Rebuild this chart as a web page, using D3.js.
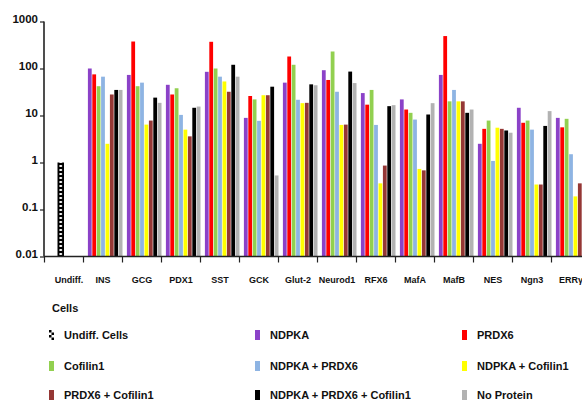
<!DOCTYPE html>
<html><head><meta charset="utf-8">
<script src="https://cdn.jsdelivr.net/npm/d3@7"></script>
<style>
body{margin:0;background:#fff}
svg{display:block}
text{font-family:"Liberation Sans",Arial,sans-serif;font-weight:bold;fill:#111}
</style>
</head><body><svg id="c" width="582" height="401"></svg>
<script>
// ---------- data ----------
const categories = ["Undiff.","INS","GCG","PDX1","SST","GCK","Glut-2","Neurod1","RFX6","MafA","MafB","NES","Ngn3","ERRγ"];
const undiffSeriesName = "Undiff. Cells";
const undiffCellsValue = [1];
const seriesNames = ["NDPKA","PRDX6","Cofilin1","NDPKA + PRDX6","NDPKA + Cofilin1","PRDX6 + Cofilin1","NDPKA + PRDX6 + Cofilin1","No Protein"];
const seriesColors = ["#8b42c8","#ff0000","#92d050","#8eb4e3","#ffff00","#953735","#000000","#b2b2b2"];
// values per gene: INS GCG PDX1 SST GCK Glut-2 Neurod1 RFX6 MafA MafB NES Ngn3 ERRγ
const ndpka          = [100, 73, 45, 85, 8.9, 50, 92, 30, 22, 73, 2.5, 14.6, 8.9];
const prdx6          = [75, 375, 28, 370, 26, 180, 57, 17, 13.4, 490, 5.2, 7.0, 5.6];
const cofilin1       = [42, 42, 38, 100, 22, 120, 230, 35, 11.4, 20, 7.8, 7.8, 8.5];
const ndpkaPrdx6     = [67, 50, 10.3, 67, 7.7, 21.6, 32, 6.3, 8.2, 35, 1.08, 5.0, 1.5];
const ndpkaCofilin1  = [2.5, 6.4, 5.0, 53, 27, 18.3, 6.3, 0.36, 0.73, 20, 5.5, 0.34, 0.19];
const prdx6Cofilin1  = [28, 7.8, 3.6, 32, 27, 18.6, 6.4, 0.86, 0.68, 20, 5.2, 0.34, 0.36];
const allThree       = [35, 24, 14.6, 120, 41, 46, 86, 15.8, 10.5, 11.4, 4.8, 6.0, 3.1];
const noProtein      = [35, 18.6, 15.5, 67, 0.53, 44, 49, 16.6, 18.3, 13.4, 4.3, 12.4, null];
const seriesValues = [ndpka, prdx6, cofilin1, ndpkaPrdx6, ndpkaCofilin1, prdx6Cofilin1, allThree, noProtein];
const yTicks = [0.01, 0.1, 1, 10, 100, 1000];
const yTickLabels = ["0.01", "0.1", "1", "10", "100", "1000"];
const legendTitle = "Cells";

// ---------- chart ----------
const svg = d3.select("#c");
const genes = categories.slice(1);

const x = d3.scaleBand().domain(categories).range([44.5, 44.5 + 39 * categories.length]).padding(0);
const inner = d3.scaleBand().domain([undiffSeriesName].concat(seriesNames)).range([0, x.bandwidth()]).paddingInner(0.14).paddingOuter(0);
const y = d3.scaleLog().domain([0.01, 1000]).range([256.5, 21.5]);
const color = d3.scaleOrdinal().domain(seriesNames).range(seriesColors);

// patterns
const defs = svg.append("defs");
const undiffX = d3.scaleBand().domain([undiffSeriesName]).range([x(categories[0]) + 13, x(categories[0]) + 19.5]);
const pat = defs.append("pattern").attr("id","dots").attr("patternUnits","userSpaceOnUse")
  .attr("x", undiffX(undiffSeriesName)).attr("y", 0).attr("width", undiffX.bandwidth()).attr("height", 4);
pat.append("rect").attr("width", undiffX.bandwidth()).attr("height", 4).attr("fill","#000");
pat.append("rect").attr("x", undiffX.bandwidth()/2 - 1.2).attr("y", 1).attr("width", 2.4).attr("height", 2).attr("fill","#fff");
const chk = defs.append("pattern").attr("id","chk").attr("patternUnits","userSpaceOnUse").attr("width",5).attr("height",5);
chk.append("rect").attr("width",5).attr("height",5).attr("fill","#fff");
chk.append("rect").attr("width",2.5).attr("height",2.5).attr("fill","#000");
chk.append("rect").attr("x",2.5).attr("y",2.5).attr("width",2.5).attr("height",2.5).attr("fill","#000");

// Undiff bar
svg.append("g").selectAll("rect").data(undiffCellsValue).join("rect")
  .attr("x", undiffX(undiffSeriesName))
  .attr("width", undiffX.bandwidth())
  .attr("y", d => y(d))
  .attr("height", d => y(0.01) - y(d))
  .attr("fill", "url(#dots)");

// grouped bars
const barData = [];
genes.forEach((g, gi) => {
  seriesNames.forEach((s, si) => {
    const v = seriesValues[si][gi];
    if (v != null) barData.push({g, s, v});
  });
});
svg.append("g").selectAll("rect").data(barData).join("rect")
  .attr("x", d => x(d.g) + inner(d.s))
  .attr("width", inner.bandwidth())
  .attr("y", d => y(d.v))
  .attr("height", d => y(0.01) - y(d.v))
  .attr("fill", d => color(d.s));

// y axis
const yAxis = svg.append("g").attr("transform","translate(44,0)")
  .call(d3.axisLeft(y).tickValues(yTicks).tickFormat((d,i) => yTickLabels[i]).tickSize(4).tickPadding(2));
yAxis.select(".domain").attr("stroke","#222").attr("stroke-width",1.6).attr("d", `M0,${y(1000)}V${y(0.01)}`);
yAxis.selectAll(".tick line").attr("stroke","#222").attr("stroke-width",1.2);
yAxis.selectAll("text").attr("dy","0.05em").style("font-size","11.5px").style("font-family","Liberation Sans, Arial, sans-serif").style("font-weight","bold").attr("fill","#111");

// x axis
const xg = svg.append("g").attr("transform", `translate(0,${y(0.01)})`);
xg.append("line").attr("x1", 44).attr("x2", x.range()[1]).attr("stroke","#222").attr("stroke-width",1.6);
xg.selectAll("line.tk").data(categories).join("line").attr("class","tk")
  .attr("x1", d => x(d)).attr("x2", d => x(d)).attr("y1", 0).attr("y2", 6)
  .attr("stroke","#222").attr("stroke-width",1.2);
xg.selectAll("text").data(categories).join("text")
  .attr("x", d => x(d) + x.bandwidth()/2 + (d === categories[0] ? 5 : 0))
  .attr("y", 26).attr("text-anchor","middle").style("font-size","9px").text(d => d);

// legend
svg.append("text").attr("x", 52).attr("y", 312).style("font-size","11px").text(legendTitle);
const legendItems = [{name: undiffSeriesName, fill: "url(#chk)"}].concat(seriesNames.map(s => ({name: s, fill: color(s)})));
const colX = [49, 255, 462];
const rowY = [335, 366, 395];
const lg = svg.append("g").selectAll("g").data(legendItems).join("g")
  .attr("transform", (d, i) => `translate(${colX[i % 3]},${rowY[Math.floor(i / 3)]})`);
lg.append("rect").attr("x", 0).attr("y", -5).attr("width", 5).attr("height", 10).attr("fill", d => d.fill);
lg.append("text").attr("x", 15).attr("y", 4).style("font-size","11px").text(d => d.name);
</script>
</body></html>
